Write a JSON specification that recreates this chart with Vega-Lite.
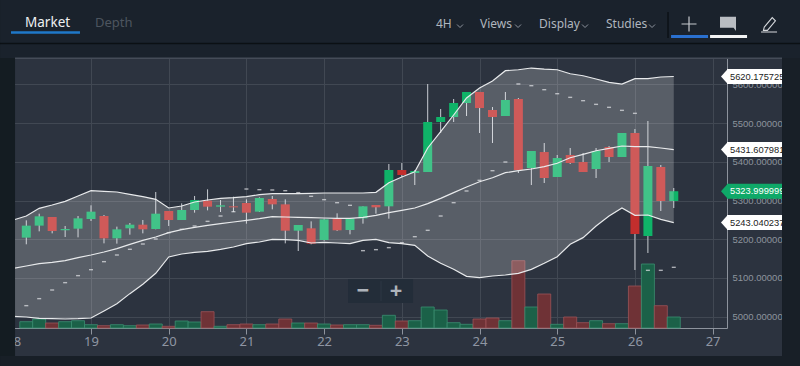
{"$schema":"https://vega.github.io/schema/vega-lite/v6.json","width":722,"height":270,"autosize":"none","padding":{"left":5,"right":73,"top":58,"bottom":38},"background":"#2c333f","view":{"stroke":null},
"config":{"text":{"font":"Noto Sans"},"axis":{"labelFont":"Noto Sans"}},
"datasets":{"market":[
{"d":18,"u":5249.7,"m":5124.9,"b":5001},
{"d":18.167,"o":5204.1,"h":5248.8,"l":5186.9,"c":5235.1,"v":6.3,"u":5260,"m":5130.9,"b":4999.2,"s":5028.5,"dir":"up"},
{"d":18.333,"o":5235.1,"h":5266,"l":5220.4,"c":5259.2,"v":9,"u":5279.8,"m":5137,"b":4995.8,"s":5046.6,"dir":"up"},
{"d":18.5,"o":5257.4,"h":5257.4,"l":5215.2,"c":5221.3,"v":5,"u":5288.4,"m":5140.4,"b":4994.9,"s":5068.9,"dir":"down"},
{"d":18.667,"o":5223,"h":5234.2,"l":5205.8,"c":5226.5,"v":6.3,"u":5297.9,"m":5144.7,"b":4994.1,"s":5087.9,"dir":"up"},
{"d":18.833,"o":5227.3,"h":5260,"l":5204.9,"c":5254,"v":7.3,"u":5311.7,"m":5152.4,"b":4994.9,"s":5106,"dir":"up"},
{"d":19,"o":5252.3,"h":5287.6,"l":5247.1,"c":5271.2,"v":3.3,"u":5325.4,"m":5159.3,"b":4996.6,"s":5121.4,"dir":"up"},
{"d":19.167,"o":5260,"h":5262.6,"l":5189.4,"c":5202.3,"v":2.3,"u":5323.7,"m":5167.1,"b":5014.7,"s":5142.1,"dir":"down"},
{"d":19.333,"o":5202.3,"h":5232.5,"l":5188.6,"c":5225.6,"v":3.3,"u":5322,"m":5175.7,"b":5033.6,"s":5159.3,"dir":"up"},
{"d":19.5,"o":5228.2,"h":5241.9,"l":5211.8,"c":5237.6,"v":2.3,"u":5316,"m":5186.9,"b":5059.5,"s":5174,"dir":"up"},
{"d":19.667,"o":5237.6,"h":5249.7,"l":5215.2,"c":5225.6,"v":3,"u":5309.9,"m":5197.2,"b":5083.6,"s":5187.7,"dir":"down"},
{"d":19.833,"o":5226.5,"h":5322,"l":5225.6,"c":5266,"v":4,"u":5303,"m":5205.8,"b":5112,"s":5200.6,"dir":"up"},
{"d":20,"o":5272.9,"h":5272.9,"l":5234.2,"c":5249.7,"v":1.7,"u":5280.7,"m":5217,"b":5154.2,"s":5217,"dir":"down"},
{"d":20.167,"o":5249.7,"h":5292.7,"l":5249.7,"c":5275.5,"v":7,"u":5285.8,"m":5224.7,"b":5161.9,"s":5225.6,"dir":"up"},
{"d":20.333,"o":5275.5,"h":5311.7,"l":5268.6,"c":5301.3,"v":6,"u":5296.2,"m":5230.8,"b":5166.2,"s":5234.2,"dir":"up"},
{"d":20.5,"o":5299.6,"h":5328.9,"l":5274.6,"c":5284.1,"v":16.3,"u":5301.3,"m":5235.9,"b":5168.8,"s":5246.2,"dir":"down"},
{"d":20.667,"o":5284.1,"h":5301.3,"l":5270.3,"c":5287.6,"v":1.7,"u":5305.6,"m":5240.2,"b":5174,"s":5260,"dir":"up"},
{"d":20.833,"o":5285,"h":5309.9,"l":5270.3,"c":5282.4,"v":3.3,"u":5307.3,"m":5244.5,"b":5180,"s":5271.2,"dir":"down"},
{"d":21,"o":5293.6,"h":5303,"l":5240.2,"c":5268.6,"v":4,"u":5309.9,"m":5248.8,"b":5188.6,"s":5329.7,"dir":"down"},
{"d":21.167,"o":5271.2,"h":5308.2,"l":5270.3,"c":5306.5,"v":3.3,"u":5315.1,"m":5253.1,"b":5192.9,"s":5328,"dir":"up"},
{"d":21.333,"o":5303.9,"h":5311.7,"l":5277.2,"c":5290.1,"v":4,"u":5317.7,"m":5258.3,"b":5199.8,"s":5327.2,"dir":"down"},
{"d":21.5,"o":5290.1,"h":5303,"l":5189.4,"c":5222.1,"v":9,"u":5317.7,"m":5257.4,"b":5198.9,"s":5325.4,"dir":"down"},
{"d":21.667,"o":5222.1,"h":5236.8,"l":5169.6,"c":5236.8,"v":5,"u":5317.7,"m":5256.6,"b":5197.2,"s":5320.3,"dir":"up"},
{"d":21.833,"o":5228.2,"h":5246.2,"l":5186.9,"c":5188.6,"v":5,"u":5318.5,"m":5255.7,"b":5190.3,"s":5310.8,"dir":"down"},
{"d":22,"o":5198,"h":5253.1,"l":5196.3,"c":5251.4,"v":4,"u":5319.4,"m":5254.9,"b":5192,"s":5302.2,"dir":"up"},
{"d":22.167,"o":5254,"h":5266.9,"l":5221.3,"c":5223,"v":3,"u":5319.4,"m":5254,"b":5190.3,"s":5294.4,"dir":"down"},
{"d":22.333,"o":5223.9,"h":5254,"l":5212.7,"c":5254,"v":3.3,"u":5319.4,"m":5254,"b":5188.6,"s":5287.6,"dir":"up"},
{"d":22.5,"o":5254,"h":5285,"l":5240.2,"c":5285,"v":3.3,"u":5319.4,"m":5256.6,"b":5197.2,"s":5170.5,"dir":"up"},
{"d":22.667,"o":5288.4,"h":5288.4,"l":5266,"c":5282.4,"v":2.7,"u":5321.1,"m":5261.7,"b":5199.8,"s":5173.1,"dir":"down"},
{"d":22.833,"o":5285,"h":5394.3,"l":5253.1,"c":5378.8,"v":12.7,"u":5346.1,"m":5268.6,"b":5191.2,"s":5178.3,"dir":"up"},
{"d":23,"o":5378.8,"h":5396.8,"l":5360.7,"c":5365.8,"v":7,"u":5360.7,"m":5274.6,"b":5188.6,"s":5191,"dir":"down"},
{"d":23.167,"o":5371,"h":5378.8,"l":5340,"c":5376.2,"v":7.3,"u":5374.4,"m":5280.7,"b":5184.3,"s":5206.6,"dir":"up"},
{"d":23.333,"o":5373.6,"h":5600.8,"l":5373.6,"c":5502.7,"v":21,"u":5435.6,"m":5291.9,"b":5156.7,"s":5223,"dir":"up"},
{"d":23.5,"o":5502.7,"h":5536.3,"l":5474.3,"c":5515.6,"v":18,"u":5477.6,"m":5305.6,"b":5137.8,"s":5260,"dir":"up"},
{"d":23.667,"o":5515.6,"h":5562.1,"l":5502.7,"c":5551.8,"v":5.3,"u":5520.8,"m":5320.3,"b":5122.3,"s":5294.4,"dir":"up"},
{"d":23.833,"o":5551.8,"h":5580.2,"l":5518.2,"c":5580.2,"v":3.7,"u":5564.7,"m":5334.9,"b":5104.2,"s":5324.6,"dir":"up"},
{"d":24,"o":5580.2,"h":5580.2,"l":5474.3,"c":5538.8,"v":9,"u":5590.5,"m":5348.5,"b":5100.8,"s":5352.1,"dir":"down"},
{"d":24.167,"o":5533.7,"h":5541.4,"l":5448.5,"c":5515.6,"v":10,"u":5608.6,"m":5358.9,"b":5105.1,"s":5377,"dir":"down"},
{"d":24.333,"o":5518.2,"h":5580.2,"l":5518.2,"c":5559.5,"v":7.3,"u":5635.2,"m":5371.8,"b":5107.7,"s":5399.4,"dir":"up"},
{"d":24.5,"o":5562.1,"h":5564.7,"l":5371,"c":5378.8,"v":67.3,"u":5637.7,"m":5377,"b":5112,"s":5600.8,"dir":"down"},
{"d":24.667,"o":5384,"h":5427.8,"l":5340,"c":5427.8,"v":21,"u":5642.1,"m":5381.3,"b":5122.3,"s":5596.5,"dir":"up"},
{"d":24.833,"o":5425.2,"h":5448.5,"l":5345.2,"c":5358.1,"v":34,"u":5639.5,"m":5387.3,"b":5137.8,"s":5586.2,"dir":"down"},
{"d":25,"o":5360.7,"h":5417.5,"l":5360.7,"c":5409.7,"v":3.7,"u":5637.7,"m":5396.1,"b":5155,"s":5575.8,"dir":"up"},
{"d":25.167,"o":5417.5,"h":5435.6,"l":5394.3,"c":5396.8,"v":11,"u":5627.4,"m":5410.5,"b":5186.9,"s":5566.4,"dir":"down"},
{"d":25.333,"o":5399.4,"h":5422.6,"l":5373.6,"c":5373.6,"v":5.3,"u":5622.2,"m":5419.3,"b":5204.1,"s":5557.8,"dir":"down"},
{"d":25.5,"o":5381.3,"h":5435.6,"l":5358.1,"c":5427.8,"v":7.3,"u":5613.7,"m":5428.6,"b":5234.2,"s":5548.3,"dir":"up"},
{"d":25.667,"o":5438.2,"h":5440.7,"l":5399.4,"c":5412.3,"v":4.3,"u":5605.2,"m":5434.8,"b":5260,"s":5540.6,"dir":"down"},
{"d":25.833,"o":5412.3,"h":5474.3,"l":5412.3,"c":5474.3,"v":4.3,"u":5600.8,"m":5440.7,"b":5280.7,"s":5532.8,"dir":"up"},
{"d":26,"o":5474.3,"h":5484.6,"l":5120.6,"c":5213.5,"v":42,"u":5614.5,"m":5438.9,"b":5261.7,"s":5525.1,"dir":"down"},
{"d":26.167,"o":5208.3,"h":5505.3,"l":5164.5,"c":5389.1,"v":64,"u":5614.5,"m":5438.9,"b":5262.6,"s":5119.7,"dir":"up"},
{"d":26.333,"o":5386.5,"h":5391.7,"l":5272.9,"c":5298.7,"v":22.3,"u":5618.9,"m":5435.6,"b":5251.4,"s":5119.7,"dir":"down"},
{"d":26.5,"o":5298.7,"h":5332.3,"l":5280.6,"c":5324,"v":11,"u":5620.2,"m":5431.6,"b":5243,"s":5127.5,"dir":"up"}
],
"tags":[{"label":"5620.175725","value":5620.175725,"kind":"study"},{"label":"5431.607981","value":5431.607981,"kind":"study"},{"label":"5323.999999","value":5323.999999,"kind":"last"},{"label":"5243.040237","value":5243.040237,"kind":"study"}]},
"resolve":{"scale":{"y":"independent"}},
"layer":[
{"data":{"name":"market"},"transform":[{"filter":"isValid(datum.v)"}],
 "mark":{"type":"bar","size":13,"strokeWidth":1,"strokeOpacity":0.8},
 "encoding":{
  "x":{"field":"d","type":"quantitative","scale":{"domain":[17.893,27.185],"nice":false,"zero":false,"padding":0},
   "axis":{"values":[18,19,20,21,22,23,24,25,26,27],"format":"d","title":null,"orient":"bottom","zindex":0,"grid":true,"gridColor":"#414853","gridWidth":1,"domainColor":"#8d939d","domainWidth":1,"tickColor":"#8d939d","tickSize":6,"labelColor":"#8f96a3","labelFontSize":13,"labelPadding":1,"labelFlush":false,"labelBound":false,"labelOverlap":false}},
  "y":{"field":"v","type":"quantitative","scale":{"domain":[0,270],"nice":false},"axis":null},
  "fill":{"field":"dir","type":"nominal","scale":{"domain":["up","down"],"range":["#1b6148","#6f3236"]},"legend":null},
  "stroke":{"field":"dir","type":"nominal","scale":{"domain":["up","down"],"range":["#3b8f70","#9c5257"]},"legend":null}}},
{"layer":[
 {"data":{"name":"market"},"transform":[{"filter":"isValid(datum.o)"}],
  "mark":{"type":"rule","color":"#c8ccd2","strokeWidth":1},
  "encoding":{"x":{"field":"d","type":"quantitative"},
   "y":{"field":"l","type":"quantitative","scale":{"domain":[4970.8,5668],"nice":false,"zero":false},
    "axis":{"orient":"right","values":[5000,5100,5200,5300,5400,5500,5600],"labelExpr":"format(datum.value,'.6f')","title":null,"zindex":0,"grid":true,"gridColor":"#414853","gridWidth":1,"domainColor":"#8d939d","domainWidth":1,"ticks":false,"labelColor":"#8d939d","labelFont":"Liberation Sans","labelFontSize":9.5,"labelPadding":5,"labelOverlap":false,"labelBound":false,"labelFlush":false,"labelLimit":0}},
   "y2":{"field":"h"}}},
 {"data":{"name":"market"},"transform":[{"filter":"isValid(datum.o)"}],
  "mark":{"type":"bar","size":9},
  "encoding":{"x":{"field":"d","type":"quantitative"},"y":{"field":"o","type":"quantitative"},"y2":{"field":"c"},
   "color":{"field":"dir","type":"nominal","scale":{"domain":["up","down"],"range":["#0fb368","#c32e2d"]},"legend":null}}},
 {"data":{"name":"market"},"mark":{"type":"area","color":"#ffffff","opacity":0.21,"interpolate":"linear"},
  "encoding":{"x":{"field":"d","type":"quantitative"},"y":{"field":"u","type":"quantitative"},"y2":{"field":"b"}}},
 {"data":{"name":"market"},"mark":{"type":"line","color":"#e8eaec","strokeWidth":1.2},
  "encoding":{"x":{"field":"d","type":"quantitative"},"y":{"field":"u","type":"quantitative"}}},
 {"data":{"name":"market"},"mark":{"type":"line","color":"#e8eaec","strokeWidth":1.2},
  "encoding":{"x":{"field":"d","type":"quantitative"},"y":{"field":"m","type":"quantitative"}}},
 {"data":{"name":"market"},"mark":{"type":"line","color":"#e8eaec","strokeWidth":1.2},
  "encoding":{"x":{"field":"d","type":"quantitative"},"y":{"field":"b","type":"quantitative"}}},
 {"data":{"name":"market"},"transform":[{"filter":"isValid(datum.s)"}],"mark":{"type":"tick","orient":"horizontal","color":"#e4e6ea","size":4,"thickness":1.4},
  "encoding":{"x":{"field":"d","type":"quantitative"},"y":{"field":"s","type":"quantitative"}}},

 {"data":{"values":[{}]},"mark":{"type":"rect","color":"#232d39"},"encoding":{"x":{"datum":22.308},"x2":{"datum":23.144},"y":{"datum":5035.4},"y2":{"datum":5097.3}}},
 {"data":{"values":[{}]},"mark":{"type":"rule","color":"#2d3844","strokeWidth":1},"encoding":{"x":{"datum":22.732},"y":{"datum":5040},"y2":{"datum":5092}}},
 {"data":{"values":[{}]},"mark":{"type":"text","text":"−","fontSize":22,"fontWeight":"bold","color":"#aeb4bb","baseline":"middle","align":"center"},"encoding":{"x":{"datum":22.5},"y":{"datum":5066.4}}},
 {"data":{"values":[{}]},"mark":{"type":"text","text":"+","fontSize":22,"fontWeight":"bold","color":"#aeb4bb","baseline":"middle","align":"center"},"encoding":{"x":{"datum":22.925},"y":{"datum":5066.4}}},

 {"data":{"name":"tags"},"transform":[{"filter":"datum.kind=='study'"}],"mark":{"type":"rule","strokeWidth":15,"color":"#ffffff"},
  "encoding":{"x":{"datum":27.185},"x2":{"datum":27.996},"y":{"field":"value","type":"quantitative"}}},
 {"data":{"name":"tags"},"transform":[{"filter":"datum.kind=='last'"}],"mark":{"type":"rule","strokeWidth":15,"color":"#0fa968"},
  "encoding":{"x":{"datum":27.185},"x2":{"datum":27.996},"y":{"field":"value","type":"quantitative"}}},
 {"data":{"name":"tags"},"transform":[{"filter":"datum.kind=='study'"}],"mark":{"type":"point","filled":true,"opacity":1,"shape":"M0.1,-1L-0.8,0L0.1,1Z","size":225,"color":"#ffffff"},
  "encoding":{"x":{"datum":27.185},"y":{"field":"value","type":"quantitative"}}},
 {"data":{"name":"tags"},"transform":[{"filter":"datum.kind=='last'"}],"mark":{"type":"point","filled":true,"opacity":1,"shape":"M0.1,-1L-0.8,0L0.1,1Z","size":225,"color":"#0fa968"},
  "encoding":{"x":{"datum":27.185},"y":{"field":"value","type":"quantitative"}}},
 {"data":{"name":"tags"},"transform":[{"filter":"datum.kind=='study'"}],"mark":{"type":"text","font":"Liberation Sans","fontSize":9.3,"align":"left","baseline":"middle","color":"#222222"},
  "encoding":{"x":{"datum":27.224},"y":{"field":"value","type":"quantitative"},"text":{"field":"label"}}},
 {"data":{"name":"tags"},"transform":[{"filter":"datum.kind=='last'"}],"mark":{"type":"text","font":"Liberation Sans","fontSize":9.3,"align":"left","baseline":"middle","color":"#ffffff"},
  "encoding":{"x":{"datum":27.224},"y":{"field":"value","type":"quantitative"},"text":{"field":"label"}}},

 {"data":{"values":[{}]},"mark":{"type":"rect","color":"#141c22"},"encoding":{"x":{"datum":17.829},"x2":{"datum":18.022},"y":{"datum":4872.7},"y2":{"datum":5817.7}}},
 {"data":{"values":[{}]},"mark":{"type":"rect","color":"#181f27"},"encoding":{"x":{"datum":27.893},"x2":{"datum":28.125},"y":{"datum":4872.7},"y2":{"datum":5817.7}}},
 {"data":{"values":[{}]},"mark":{"type":"rect","color":"#181f27"},"encoding":{"x":{"datum":17.829},"x2":{"datum":28.125},"y":{"datum":4872.7},"y2":{"datum":4898.5}}},
 {"data":{"values":[{}]},"mark":{"type":"rect","color":"#1a222c"},"encoding":{"x":{"datum":17.829},"x2":{"datum":28.125},"y":{"datum":5668},"y2":{"datum":5817.7}}},
 {"data":{"values":[{}]},"mark":{"type":"rule","color":"#0b1014","strokeWidth":1.5},"encoding":{"x":{"datum":17.829},"x2":{"datum":28.125},"y":{"datum":5705.4}}},
 {"data":{"values":[{}]},"mark":{"type":"rule","color":"#454c58","strokeWidth":1.5},"encoding":{"x":{"datum":18.022},"x2":{"datum":27.893},"y":{"datum":5667.5}}},

 {"data":{"values":[{}]},"mark":{"type":"text","text":"Market","fontSize":13.5,"color":"#eef0f2","align":"left","baseline":"middle"},"encoding":{"x":{"datum":18.151},"y":{"datum":5758.3}}},
 {"data":{"values":[{}]},"mark":{"type":"text","text":"Depth","fontSize":13,"color":"#4d555f","align":"left","baseline":"middle"},"encoding":{"x":{"datum":19.051},"y":{"datum":5758.3}}},
 {"data":{"values":[{}]},"mark":{"type":"rule","color":"#1f78c8","strokeWidth":2.5},"encoding":{"x":{"datum":17.97},"x2":{"datum":18.858},"y":{"datum":5733.8}}},
 {"data":{"values":[{}]},"mark":{"type":"text","text":"4H","fontSize":12,"color":"#b0b6be","align":"left","baseline":"middle"},"encoding":{"x":{"datum":23.44},"y":{"datum":5755.8}}},
 {"data":{"values":[{}]},"mark":{"type":"text","text":"Views","fontSize":12,"color":"#b0b6be","align":"left","baseline":"middle"},"encoding":{"x":{"datum":24.006},"y":{"datum":5755.8}}},
 {"data":{"values":[{}]},"mark":{"type":"text","text":"Display","fontSize":12,"color":"#b0b6be","align":"left","baseline":"middle"},"encoding":{"x":{"datum":24.766},"y":{"datum":5755.8}}},
 {"data":{"values":[{}]},"mark":{"type":"text","text":"Studies","fontSize":12,"color":"#b0b6be","align":"left","baseline":"middle"},"encoding":{"x":{"datum":25.628},"y":{"datum":5755.8}}},
 {"data":{"values":[{"day":23.749},{"day":24.496},{"day":25.358},{"day":26.22}]},"mark":{"type":"point","shape":"M-1,-0.5L0,0.5L1,-0.5","size":36,"filled":false,"color":"#8d939d","strokeWidth":1,"opacity":1},"encoding":{"x":{"field":"day","type":"quantitative"},"y":{"datum":5750.6}}},
 {"data":{"values":[{}]},"mark":{"type":"rule","color":"#0c1116","strokeWidth":1.5},"encoding":{"x":{"datum":26.426},"y":{"datum":5719.6},"y2":{"datum":5786.7}}},
 {"data":{"values":[{}]},"mark":{"type":"rule","color":"#2a70cf","strokeWidth":3},"encoding":{"x":{"datum":26.465},"x2":{"datum":26.941},"y":{"datum":5723.5}}},
 {"data":{"values":[{}]},"mark":{"type":"rule","color":"#f2f3f4","strokeWidth":3},"encoding":{"x":{"datum":26.967},"x2":{"datum":27.443},"y":{"datum":5723.5}}},
 {"data":{"values":[{}]},"mark":{"type":"point","shape":"M-1,0H1M0,-1V1","size":225,"filled":false,"color":"#c5c9ce","strokeWidth":1.2,"opacity":1},"encoding":{"x":{"datum":26.696},"y":{"datum":5755.8}}},
 {"data":{"values":[{}]},"mark":{"type":"point","shape":"M-1,-0.8H1V1L0.7,0.6H-1Z","size":256,"filled":true,"color":"#b9bdc2","opacity":1},"encoding":{"x":{"datum":27.198},"y":{"datum":5758.3}}},
 {"data":{"values":[{}]},"mark":{"type":"point","shape":"M-0.6,0.4L0.4,-0.8L0.8,-0.4L-0.2,0.8L-0.7,0.8ZM-1,1H1","size":256,"filled":false,"color":"#d5d8dc","strokeWidth":1.1,"opacity":1},"encoding":{"x":{"datum":27.726},"y":{"datum":5755.8}}}
]}
]}
